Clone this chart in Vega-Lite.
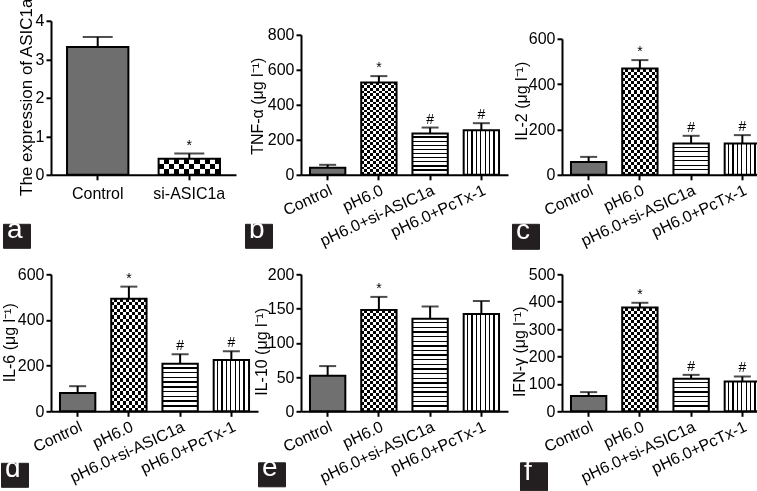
{
"$schema": "https://vega.github.io/schema/vega-lite/v6.json",
"autosize": {"type": "pad"},
"padding": {"left": 0, "top": -3.2, "right": 0, "bottom": 0},
"config": {
 "font": "Liberation Sans",
 "view": {"stroke": null},
 "axis": {"domainColor": "#000", "domainWidth": 2, "tickColor": "#000", "tickWidth": 2, "tickSize": 5, "labelFont": "Liberation Sans", "labelFontSize": 16, "labelColor": "#000", "titleFont": "Liberation Sans", "titleFontSize": 16, "titleFontWeight": "normal", "titleColor": "#000", "grid": false, "labelPadding": 2, "titleBaseline": "middle"},
 "legend": {"fillColor": "#231f20", "strokeColor": "#231f20", "padding": 4, "titleColor": "#ffffff", "titleFontSize": 28, "titleFont": "Liberation Sans", "titleFontWeight": "normal", "titlePadding": 0, "titleOrient": "left", "symbolOpacity": 0, "symbolSize": 9, "symbolStrokeWidth": 0, "labelFontSize": 1, "labelOffset": 0}
},
"datasets": {
 "a": [{"g": "Control", "v": 3.32, "e": 3.58, "s": ""}, {"g": "si-ASIC1a", "v": 0.42, "e": 0.55, "s": "*"}],
 "b": [{"g": "Control", "v": 40, "e": 57, "s": ""}, {"g": "pH6.0", "v": 527, "e": 564, "s": "*"}, {"g": "pH6.0+si-ASIC1a", "v": 236, "e": 270, "s": "#"}, {"g": "pH6.0+PcTx-1", "v": 255, "e": 295, "s": "#"}],
 "c": [{"g": "Control", "v": 56, "e": 79, "s": ""}, {"g": "pH6.0", "v": 469, "e": 506, "s": "*"}, {"g": "pH6.0+si-ASIC1a", "v": 138, "e": 172, "s": "#"}, {"g": "pH6.0+PcTx-1", "v": 138, "e": 175, "s": "#"}],
 "d": [{"g": "Control", "v": 80, "e": 110, "s": ""}, {"g": "pH6.0", "v": 493, "e": 546, "s": "*"}, {"g": "pH6.0+si-ASIC1a", "v": 208, "e": 250, "s": "#"}, {"g": "pH6.0+PcTx-1", "v": 225, "e": 263, "s": "#"}],
 "e": [{"g": "Control", "v": 52, "e": 66, "s": ""}, {"g": "pH6.0", "v": 148, "e": 167, "s": "*"}, {"g": "pH6.0+si-ASIC1a", "v": 135, "e": 153, "s": ""}, {"g": "pH6.0+PcTx-1", "v": 142, "e": 161, "s": ""}],
 "f": [{"g": "Control", "v": 56, "e": 70, "s": ""}, {"g": "pH6.0", "v": 379, "e": 396, "s": "*"}, {"g": "pH6.0+si-ASIC1a", "v": 119, "e": 133, "s": "#"}, {"g": "pH6.0+PcTx-1", "v": 109, "e": 127, "s": "#"}]
},
"columns": 3,
"align": "none",
"bounds": "flush",
"spacing": {"row": 99.5, "column": 43},
"resolve": {"scale": {"opacity": "independent"}, "legend": {"opacity": "independent"}},
"concat": [
 {
  "width": 196, "height": 154,
  "data": {"name": "a"},
  "encoding": {
   "x": {"field": "g", "type": "nominal", "sort": null, "scale": {"range": [0, 185], "paddingInner": 0.33, "paddingOuter": 0.175}, "axis": {"title": null, "labelAngle": 0, "labelPadding": 6}},
   "y": {"field": "v", "type": "quantitative", "title": "The expression of ASIC1a", "scale": {"domain": [0, 4], "nice": false}, "axis": {"values": [0, 1, 2, 3, 4], "titleX": -25, "titleY": 76, "titleFontSize": 17}}
  },
  "layer": [
   {"mark": {"type": "bar"}, "encoding": {"fill": {"condition": {"test": "datum.g === 'si-ASIC1a'", "value": {"gradient":"linear","x1":0,"y1":0,"x2":1,"y2":0,"stops":[{"offset":0,"color":"#fff"},{"offset":0.0833,"color":"#fff"},{"offset":0.0833,"color":"#000"},{"offset":0.1667,"color":"#000"},{"offset":0.1667,"color":"#fff"},{"offset":0.25,"color":"#fff"},{"offset":0.25,"color":"#000"},{"offset":0.3333,"color":"#000"},{"offset":0.3333,"color":"#fff"},{"offset":0.4167,"color":"#fff"},{"offset":0.4167,"color":"#000"},{"offset":0.5,"color":"#000"},{"offset":0.5,"color":"#fff"},{"offset":0.5833,"color":"#fff"},{"offset":0.5833,"color":"#000"},{"offset":0.6667,"color":"#000"},{"offset":0.6667,"color":"#fff"},{"offset":0.75,"color":"#fff"},{"offset":0.75,"color":"#000"},{"offset":0.8333,"color":"#000"},{"offset":0.8333,"color":"#fff"},{"offset":0.9167,"color":"#fff"},{"offset":0.9167,"color":"#000"},{"offset":1,"color":"#000"}]}}, "value": "#6e6e6e"}}},
   {"transform": [{"filter": "datum.g === 'si-ASIC1a'"}], "mark": {"type": "bar", "blend": "difference", "fill": {"gradient":"linear","x1":0,"y1":0,"x2":0,"y2":1,"stops":[{"offset":0,"color":"#000"},{"offset":0.333,"color":"#000"},{"offset":0.333,"color":"#fff"},{"offset":0.667,"color":"#fff"},{"offset":0.667,"color":"#000"},{"offset":1,"color":"#000"}]}}},
   {"mark": {"type": "bar", "fill": "transparent", "stroke": "#000", "strokeWidth": 2}},
   {"mark": {"type": "bar", "fill": "transparent", "strokeWidth": 0}, "encoding": {"opacity": {"datum": "a", "type": "ordinal", "legend": {"title": "a", "orient": "none", "legendX": -48, "legendY": 203, "labelExpr": "''"}}}},
   {"mark": {"type": "rule", "color": "#000", "strokeWidth": 2}, "encoding": {"y2": {"field": "e"}}},
   {"mark": {"type": "tick", "color": "#000", "thickness": 2, "size": 30}, "encoding": {"y": {"field": "e", "type": "quantitative", "title": "The expression of ASIC1a"}}},
   {"mark": {"type": "text", "baseline": "bottom", "dy": -1, "fontSize": 14}, "encoding": {"y": {"field": "e", "type": "quantitative", "title": "The expression of ASIC1a"}, "text": {"field": "s"}}}
  ]
 },
 {
  "width": 218, "height": 154,
  "data": {"name": "b"},
  "encoding": {
   "x": {"field": "g", "type": "nominal", "sort": null, "scale": {"range": [0, 207], "paddingInner": 0.31, "paddingOuter": 0.175}, "axis": {"title": null, "labelAngle": -25, "labelAlign": "right", "labelBaseline": "top", "labelOverlap": false}},
   "y": {"field": "v", "type": "quantitative", "title": "TNF-α (μg l⁻¹)", "scale": {"domain": [0, 800], "range": [154, 14], "nice": false}, "axis": {"values": [0, 200, 400, 600, 800], "titleX": -44, "titleY": 85}}
  },
  "layer": [
   {"mark": {"type": "bar"}, "encoding": {"fill": {"condition": [
     {"test": "datum.g === 'pH6.0'", "value": {"gradient":"linear","x1":0,"y1":0,"x2":1,"y2":0,"stops":[{"offset":0,"color":"#fff"},{"offset":0.0833,"color":"#fff"},{"offset":0.0833,"color":"#000"},{"offset":0.1667,"color":"#000"},{"offset":0.1667,"color":"#fff"},{"offset":0.25,"color":"#fff"},{"offset":0.25,"color":"#000"},{"offset":0.3333,"color":"#000"},{"offset":0.3333,"color":"#fff"},{"offset":0.4167,"color":"#fff"},{"offset":0.4167,"color":"#000"},{"offset":0.5,"color":"#000"},{"offset":0.5,"color":"#fff"},{"offset":0.5833,"color":"#fff"},{"offset":0.5833,"color":"#000"},{"offset":0.6667,"color":"#000"},{"offset":0.6667,"color":"#fff"},{"offset":0.75,"color":"#fff"},{"offset":0.75,"color":"#000"},{"offset":0.8333,"color":"#000"},{"offset":0.8333,"color":"#fff"},{"offset":0.9167,"color":"#fff"},{"offset":0.9167,"color":"#000"},{"offset":1,"color":"#000"}]}},
     {"test": "datum.g === 'pH6.0+si-ASIC1a'", "value": {"gradient":"linear","x1":0,"y1":0,"x2":0,"y2":1,"stops":[{"offset":0,"color":"#fff"},{"offset":0.07,"color":"#fff"},{"offset":0.07,"color":"#000"},{"offset":0.1,"color":"#000"},{"offset":0.1,"color":"#fff"},{"offset":0.17,"color":"#fff"},{"offset":0.17,"color":"#000"},{"offset":0.2,"color":"#000"},{"offset":0.2,"color":"#fff"},{"offset":0.27,"color":"#fff"},{"offset":0.27,"color":"#000"},{"offset":0.3,"color":"#000"},{"offset":0.3,"color":"#fff"},{"offset":0.37,"color":"#fff"},{"offset":0.37,"color":"#000"},{"offset":0.4,"color":"#000"},{"offset":0.4,"color":"#fff"},{"offset":0.47,"color":"#fff"},{"offset":0.47,"color":"#000"},{"offset":0.5,"color":"#000"},{"offset":0.5,"color":"#fff"},{"offset":0.57,"color":"#fff"},{"offset":0.57,"color":"#000"},{"offset":0.6,"color":"#000"},{"offset":0.6,"color":"#fff"},{"offset":0.67,"color":"#fff"},{"offset":0.67,"color":"#000"},{"offset":0.7,"color":"#000"},{"offset":0.7,"color":"#fff"},{"offset":0.77,"color":"#fff"},{"offset":0.77,"color":"#000"},{"offset":0.8,"color":"#000"},{"offset":0.8,"color":"#fff"},{"offset":0.87,"color":"#fff"},{"offset":0.87,"color":"#000"},{"offset":0.9,"color":"#000"},{"offset":0.9,"color":"#fff"},{"offset":1,"color":"#fff"}]}},
     {"test": "datum.g === 'pH6.0+PcTx-1'", "value": {"gradient":"linear","x1":0,"y1":0,"x2":1,"y2":0,"stops":[{"offset":0,"color":"#fff"},{"offset":0.09,"color":"#fff"},{"offset":0.09,"color":"#000"},{"offset":0.125,"color":"#000"},{"offset":0.125,"color":"#fff"},{"offset":0.215,"color":"#fff"},{"offset":0.215,"color":"#000"},{"offset":0.25,"color":"#000"},{"offset":0.25,"color":"#fff"},{"offset":0.34,"color":"#fff"},{"offset":0.34,"color":"#000"},{"offset":0.375,"color":"#000"},{"offset":0.375,"color":"#fff"},{"offset":0.465,"color":"#fff"},{"offset":0.465,"color":"#000"},{"offset":0.5,"color":"#000"},{"offset":0.5,"color":"#fff"},{"offset":0.59,"color":"#fff"},{"offset":0.59,"color":"#000"},{"offset":0.625,"color":"#000"},{"offset":0.625,"color":"#fff"},{"offset":0.715,"color":"#fff"},{"offset":0.715,"color":"#000"},{"offset":0.75,"color":"#000"},{"offset":0.75,"color":"#fff"},{"offset":0.84,"color":"#fff"},{"offset":0.84,"color":"#000"},{"offset":0.875,"color":"#000"},{"offset":0.875,"color":"#fff"},{"offset":1,"color":"#fff"}]}}
    ], "value": "#707070"}}},
   {"transform": [{"filter": "datum.g === 'pH6.0'"}], "mark": {"type": "bar", "blend": "difference", "fill": {"gradient":"linear","x1":0,"y1":0,"x2":0,"y2":1,"stops":[{"offset":0,"color":"#000"},{"offset":0.0294,"color":"#000"},{"offset":0.0294,"color":"#fff"},{"offset":0.0588,"color":"#fff"},{"offset":0.0588,"color":"#000"},{"offset":0.0882,"color":"#000"},{"offset":0.0882,"color":"#fff"},{"offset":0.1176,"color":"#fff"},{"offset":0.1176,"color":"#000"},{"offset":0.1471,"color":"#000"},{"offset":0.1471,"color":"#fff"},{"offset":0.1765,"color":"#fff"},{"offset":0.1765,"color":"#000"},{"offset":0.2059,"color":"#000"},{"offset":0.2059,"color":"#fff"},{"offset":0.2353,"color":"#fff"},{"offset":0.2353,"color":"#000"},{"offset":0.2647,"color":"#000"},{"offset":0.2647,"color":"#fff"},{"offset":0.2941,"color":"#fff"},{"offset":0.2941,"color":"#000"},{"offset":0.3235,"color":"#000"},{"offset":0.3235,"color":"#fff"},{"offset":0.3529,"color":"#fff"},{"offset":0.3529,"color":"#000"},{"offset":0.3824,"color":"#000"},{"offset":0.3824,"color":"#fff"},{"offset":0.4118,"color":"#fff"},{"offset":0.4118,"color":"#000"},{"offset":0.4412,"color":"#000"},{"offset":0.4412,"color":"#fff"},{"offset":0.4706,"color":"#fff"},{"offset":0.4706,"color":"#000"},{"offset":0.5,"color":"#000"},{"offset":0.5,"color":"#fff"},{"offset":0.5294,"color":"#fff"},{"offset":0.5294,"color":"#000"},{"offset":0.5588,"color":"#000"},{"offset":0.5588,"color":"#fff"},{"offset":0.5882,"color":"#fff"},{"offset":0.5882,"color":"#000"},{"offset":0.6176,"color":"#000"},{"offset":0.6176,"color":"#fff"},{"offset":0.6471,"color":"#fff"},{"offset":0.6471,"color":"#000"},{"offset":0.6765,"color":"#000"},{"offset":0.6765,"color":"#fff"},{"offset":0.7059,"color":"#fff"},{"offset":0.7059,"color":"#000"},{"offset":0.7353,"color":"#000"},{"offset":0.7353,"color":"#fff"},{"offset":0.7647,"color":"#fff"},{"offset":0.7647,"color":"#000"},{"offset":0.7941,"color":"#000"},{"offset":0.7941,"color":"#fff"},{"offset":0.8235,"color":"#fff"},{"offset":0.8235,"color":"#000"},{"offset":0.8529,"color":"#000"},{"offset":0.8529,"color":"#fff"},{"offset":0.8824,"color":"#fff"},{"offset":0.8824,"color":"#000"},{"offset":0.9118,"color":"#000"},{"offset":0.9118,"color":"#fff"},{"offset":0.9412,"color":"#fff"},{"offset":0.9412,"color":"#000"},{"offset":0.9706,"color":"#000"},{"offset":0.9706,"color":"#fff"},{"offset":1,"color":"#fff"}]}}},
   {"mark": {"type": "bar", "fill": "transparent", "stroke": "#000", "strokeWidth": 2}},
   {"mark": {"type": "bar", "fill": "transparent", "strokeWidth": 0}, "encoding": {"opacity": {"datum": "b", "type": "ordinal", "legend": {"title": "b", "orient": "none", "legendX": -56, "legendY": 203, "labelExpr": "''"}}}},
   {"mark": {"type": "rule", "color": "#000", "strokeWidth": 2}, "encoding": {"y2": {"field": "e"}}},
   {"mark": {"type": "tick", "color": "#000", "thickness": 2, "size": 17}, "encoding": {"y": {"field": "e", "type": "quantitative", "title": "TNF-α (μg l⁻¹)"}}},
   {"mark": {"type": "text", "baseline": "bottom", "dy": -1, "fontSize": 14}, "encoding": {"y": {"field": "e", "type": "quantitative", "title": "TNF-α (μg l⁻¹)"}, "text": {"field": "s"}}}
  ]
 },
 {
  "width": 207, "height": 154,
  "data": {"name": "c"},
  "encoding": {
   "x": {"field": "g", "type": "nominal", "sort": null, "scale": {"paddingInner": 0.31, "paddingOuter": 0.175}, "axis": {"title": null, "labelAngle": -25, "labelAlign": "right", "labelBaseline": "top", "labelOverlap": false}},
   "y": {"field": "v", "type": "quantitative", "title": "IL-2 (μg l⁻¹)", "scale": {"domain": [0, 600], "range": [154, 18], "nice": false}, "axis": {"values": [0, 200, 400, 600], "titleX": -40, "titleY": 80}}
  },
  "layer": [
   {"mark": {"type": "bar"}, "encoding": {"fill": {"condition": [
     {"test": "datum.g === 'pH6.0'", "value": {"gradient":"linear","x1":0,"y1":0,"x2":1,"y2":0,"stops":[{"offset":0,"color":"#fff"},{"offset":0.0833,"color":"#fff"},{"offset":0.0833,"color":"#000"},{"offset":0.1667,"color":"#000"},{"offset":0.1667,"color":"#fff"},{"offset":0.25,"color":"#fff"},{"offset":0.25,"color":"#000"},{"offset":0.3333,"color":"#000"},{"offset":0.3333,"color":"#fff"},{"offset":0.4167,"color":"#fff"},{"offset":0.4167,"color":"#000"},{"offset":0.5,"color":"#000"},{"offset":0.5,"color":"#fff"},{"offset":0.5833,"color":"#fff"},{"offset":0.5833,"color":"#000"},{"offset":0.6667,"color":"#000"},{"offset":0.6667,"color":"#fff"},{"offset":0.75,"color":"#fff"},{"offset":0.75,"color":"#000"},{"offset":0.8333,"color":"#000"},{"offset":0.8333,"color":"#fff"},{"offset":0.9167,"color":"#fff"},{"offset":0.9167,"color":"#000"},{"offset":1,"color":"#000"}]}},
     {"test": "datum.g === 'pH6.0+si-ASIC1a'", "value": {"gradient":"linear","x1":0,"y1":0,"x2":0,"y2":1,"stops":[{"offset":0,"color":"#fff"},{"offset":0.1,"color":"#fff"},{"offset":0.1,"color":"#000"},{"offset":0.1429,"color":"#000"},{"offset":0.1429,"color":"#fff"},{"offset":0.2429,"color":"#fff"},{"offset":0.2429,"color":"#000"},{"offset":0.2857,"color":"#000"},{"offset":0.2857,"color":"#fff"},{"offset":0.3857,"color":"#fff"},{"offset":0.3857,"color":"#000"},{"offset":0.4286,"color":"#000"},{"offset":0.4286,"color":"#fff"},{"offset":0.5286,"color":"#fff"},{"offset":0.5286,"color":"#000"},{"offset":0.5714,"color":"#000"},{"offset":0.5714,"color":"#fff"},{"offset":0.6714,"color":"#fff"},{"offset":0.6714,"color":"#000"},{"offset":0.7143,"color":"#000"},{"offset":0.7143,"color":"#fff"},{"offset":0.8143,"color":"#fff"},{"offset":0.8143,"color":"#000"},{"offset":0.8571,"color":"#000"},{"offset":0.8571,"color":"#fff"},{"offset":1,"color":"#fff"}]}},
     {"test": "datum.g === 'pH6.0+PcTx-1'", "value": {"gradient":"linear","x1":0,"y1":0,"x2":1,"y2":0,"stops":[{"offset":0,"color":"#fff"},{"offset":0.09,"color":"#fff"},{"offset":0.09,"color":"#000"},{"offset":0.125,"color":"#000"},{"offset":0.125,"color":"#fff"},{"offset":0.215,"color":"#fff"},{"offset":0.215,"color":"#000"},{"offset":0.25,"color":"#000"},{"offset":0.25,"color":"#fff"},{"offset":0.34,"color":"#fff"},{"offset":0.34,"color":"#000"},{"offset":0.375,"color":"#000"},{"offset":0.375,"color":"#fff"},{"offset":0.465,"color":"#fff"},{"offset":0.465,"color":"#000"},{"offset":0.5,"color":"#000"},{"offset":0.5,"color":"#fff"},{"offset":0.59,"color":"#fff"},{"offset":0.59,"color":"#000"},{"offset":0.625,"color":"#000"},{"offset":0.625,"color":"#fff"},{"offset":0.715,"color":"#fff"},{"offset":0.715,"color":"#000"},{"offset":0.75,"color":"#000"},{"offset":0.75,"color":"#fff"},{"offset":0.84,"color":"#fff"},{"offset":0.84,"color":"#000"},{"offset":0.875,"color":"#000"},{"offset":0.875,"color":"#fff"},{"offset":1,"color":"#fff"}]}}
    ], "value": "#707070"}}},
   {"transform": [{"filter": "datum.g === 'pH6.0'"}], "mark": {"type": "bar", "blend": "difference", "fill": {"gradient":"linear","x1":0,"y1":0,"x2":0,"y2":1,"stops":[{"offset":0,"color":"#000"},{"offset":0.0294,"color":"#000"},{"offset":0.0294,"color":"#fff"},{"offset":0.0588,"color":"#fff"},{"offset":0.0588,"color":"#000"},{"offset":0.0882,"color":"#000"},{"offset":0.0882,"color":"#fff"},{"offset":0.1176,"color":"#fff"},{"offset":0.1176,"color":"#000"},{"offset":0.1471,"color":"#000"},{"offset":0.1471,"color":"#fff"},{"offset":0.1765,"color":"#fff"},{"offset":0.1765,"color":"#000"},{"offset":0.2059,"color":"#000"},{"offset":0.2059,"color":"#fff"},{"offset":0.2353,"color":"#fff"},{"offset":0.2353,"color":"#000"},{"offset":0.2647,"color":"#000"},{"offset":0.2647,"color":"#fff"},{"offset":0.2941,"color":"#fff"},{"offset":0.2941,"color":"#000"},{"offset":0.3235,"color":"#000"},{"offset":0.3235,"color":"#fff"},{"offset":0.3529,"color":"#fff"},{"offset":0.3529,"color":"#000"},{"offset":0.3824,"color":"#000"},{"offset":0.3824,"color":"#fff"},{"offset":0.4118,"color":"#fff"},{"offset":0.4118,"color":"#000"},{"offset":0.4412,"color":"#000"},{"offset":0.4412,"color":"#fff"},{"offset":0.4706,"color":"#fff"},{"offset":0.4706,"color":"#000"},{"offset":0.5,"color":"#000"},{"offset":0.5,"color":"#fff"},{"offset":0.5294,"color":"#fff"},{"offset":0.5294,"color":"#000"},{"offset":0.5588,"color":"#000"},{"offset":0.5588,"color":"#fff"},{"offset":0.5882,"color":"#fff"},{"offset":0.5882,"color":"#000"},{"offset":0.6176,"color":"#000"},{"offset":0.6176,"color":"#fff"},{"offset":0.6471,"color":"#fff"},{"offset":0.6471,"color":"#000"},{"offset":0.6765,"color":"#000"},{"offset":0.6765,"color":"#fff"},{"offset":0.7059,"color":"#fff"},{"offset":0.7059,"color":"#000"},{"offset":0.7353,"color":"#000"},{"offset":0.7353,"color":"#fff"},{"offset":0.7647,"color":"#fff"},{"offset":0.7647,"color":"#000"},{"offset":0.7941,"color":"#000"},{"offset":0.7941,"color":"#fff"},{"offset":0.8235,"color":"#fff"},{"offset":0.8235,"color":"#000"},{"offset":0.8529,"color":"#000"},{"offset":0.8529,"color":"#fff"},{"offset":0.8824,"color":"#fff"},{"offset":0.8824,"color":"#000"},{"offset":0.9118,"color":"#000"},{"offset":0.9118,"color":"#fff"},{"offset":0.9412,"color":"#fff"},{"offset":0.9412,"color":"#000"},{"offset":0.9706,"color":"#000"},{"offset":0.9706,"color":"#fff"},{"offset":1,"color":"#fff"}]}}},
   {"mark": {"type": "bar", "fill": "transparent", "stroke": "#000", "strokeWidth": 2}},
   {"mark": {"type": "bar", "fill": "transparent", "strokeWidth": 0}, "encoding": {"opacity": {"datum": "c", "type": "ordinal", "legend": {"title": "c", "orient": "none", "legendX": -50, "legendY": 203, "labelExpr": "''", "symbolSize": 25}}}},
   {"mark": {"type": "rule", "color": "#000", "strokeWidth": 2}, "encoding": {"y2": {"field": "e"}}},
   {"mark": {"type": "tick", "color": "#000", "thickness": 2, "size": 17}, "encoding": {"y": {"field": "e", "type": "quantitative", "title": "IL-2 (μg l⁻¹)"}}},
   {"mark": {"type": "text", "baseline": "bottom", "dy": -1, "fontSize": 14}, "encoding": {"y": {"field": "e", "type": "quantitative", "title": "IL-2 (μg l⁻¹)"}, "text": {"field": "s"}}}
  ]
 },
 {
  "width": 207, "height": 137,
  "data": {"name": "d"},
  "encoding": {
   "x": {"field": "g", "type": "nominal", "sort": null, "scale": {"paddingInner": 0.31, "paddingOuter": 0.175}, "axis": {"title": null, "labelAngle": -25, "labelAlign": "right", "labelBaseline": "top", "labelOverlap": false}},
   "y": {"field": "v", "type": "quantitative", "title": "IL-6 (μg l⁻¹)", "scale": {"domain": [0, 600], "nice": false}, "axis": {"values": [0, 200, 400, 600], "titleX": -42, "titleY": 68}}
  },
  "layer": [
   {"mark": {"type": "bar"}, "encoding": {"fill": {"condition": [
     {"test": "datum.g === 'pH6.0'", "value": {"gradient":"linear","x1":0,"y1":0,"x2":1,"y2":0,"stops":[{"offset":0,"color":"#fff"},{"offset":0.0833,"color":"#fff"},{"offset":0.0833,"color":"#000"},{"offset":0.1667,"color":"#000"},{"offset":0.1667,"color":"#fff"},{"offset":0.25,"color":"#fff"},{"offset":0.25,"color":"#000"},{"offset":0.3333,"color":"#000"},{"offset":0.3333,"color":"#fff"},{"offset":0.4167,"color":"#fff"},{"offset":0.4167,"color":"#000"},{"offset":0.5,"color":"#000"},{"offset":0.5,"color":"#fff"},{"offset":0.5833,"color":"#fff"},{"offset":0.5833,"color":"#000"},{"offset":0.6667,"color":"#000"},{"offset":0.6667,"color":"#fff"},{"offset":0.75,"color":"#fff"},{"offset":0.75,"color":"#000"},{"offset":0.8333,"color":"#000"},{"offset":0.8333,"color":"#fff"},{"offset":0.9167,"color":"#fff"},{"offset":0.9167,"color":"#000"},{"offset":1,"color":"#000"}]}},
     {"test": "datum.g === 'pH6.0+si-ASIC1a'", "value": {"gradient":"linear","x1":0,"y1":0,"x2":0,"y2":1,"stops":[{"offset":0,"color":"#fff"},{"offset":0.07,"color":"#fff"},{"offset":0.07,"color":"#000"},{"offset":0.1,"color":"#000"},{"offset":0.1,"color":"#fff"},{"offset":0.17,"color":"#fff"},{"offset":0.17,"color":"#000"},{"offset":0.2,"color":"#000"},{"offset":0.2,"color":"#fff"},{"offset":0.27,"color":"#fff"},{"offset":0.27,"color":"#000"},{"offset":0.3,"color":"#000"},{"offset":0.3,"color":"#fff"},{"offset":0.37,"color":"#fff"},{"offset":0.37,"color":"#000"},{"offset":0.4,"color":"#000"},{"offset":0.4,"color":"#fff"},{"offset":0.47,"color":"#fff"},{"offset":0.47,"color":"#000"},{"offset":0.5,"color":"#000"},{"offset":0.5,"color":"#fff"},{"offset":0.57,"color":"#fff"},{"offset":0.57,"color":"#000"},{"offset":0.6,"color":"#000"},{"offset":0.6,"color":"#fff"},{"offset":0.67,"color":"#fff"},{"offset":0.67,"color":"#000"},{"offset":0.7,"color":"#000"},{"offset":0.7,"color":"#fff"},{"offset":0.77,"color":"#fff"},{"offset":0.77,"color":"#000"},{"offset":0.8,"color":"#000"},{"offset":0.8,"color":"#fff"},{"offset":0.87,"color":"#fff"},{"offset":0.87,"color":"#000"},{"offset":0.9,"color":"#000"},{"offset":0.9,"color":"#fff"},{"offset":1,"color":"#fff"}]}},
     {"test": "datum.g === 'pH6.0+PcTx-1'", "value": {"gradient":"linear","x1":0,"y1":0,"x2":1,"y2":0,"stops":[{"offset":0,"color":"#fff"},{"offset":0.09,"color":"#fff"},{"offset":0.09,"color":"#000"},{"offset":0.125,"color":"#000"},{"offset":0.125,"color":"#fff"},{"offset":0.215,"color":"#fff"},{"offset":0.215,"color":"#000"},{"offset":0.25,"color":"#000"},{"offset":0.25,"color":"#fff"},{"offset":0.34,"color":"#fff"},{"offset":0.34,"color":"#000"},{"offset":0.375,"color":"#000"},{"offset":0.375,"color":"#fff"},{"offset":0.465,"color":"#fff"},{"offset":0.465,"color":"#000"},{"offset":0.5,"color":"#000"},{"offset":0.5,"color":"#fff"},{"offset":0.59,"color":"#fff"},{"offset":0.59,"color":"#000"},{"offset":0.625,"color":"#000"},{"offset":0.625,"color":"#fff"},{"offset":0.715,"color":"#fff"},{"offset":0.715,"color":"#000"},{"offset":0.75,"color":"#000"},{"offset":0.75,"color":"#fff"},{"offset":0.84,"color":"#fff"},{"offset":0.84,"color":"#000"},{"offset":0.875,"color":"#000"},{"offset":0.875,"color":"#fff"},{"offset":1,"color":"#fff"}]}}
    ], "value": "#707070"}}},
   {"transform": [{"filter": "datum.g === 'pH6.0'"}], "mark": {"type": "bar", "blend": "difference", "fill": {"gradient":"linear","x1":0,"y1":0,"x2":0,"y2":1,"stops":[{"offset":0,"color":"#000"},{"offset":0.0294,"color":"#000"},{"offset":0.0294,"color":"#fff"},{"offset":0.0588,"color":"#fff"},{"offset":0.0588,"color":"#000"},{"offset":0.0882,"color":"#000"},{"offset":0.0882,"color":"#fff"},{"offset":0.1176,"color":"#fff"},{"offset":0.1176,"color":"#000"},{"offset":0.1471,"color":"#000"},{"offset":0.1471,"color":"#fff"},{"offset":0.1765,"color":"#fff"},{"offset":0.1765,"color":"#000"},{"offset":0.2059,"color":"#000"},{"offset":0.2059,"color":"#fff"},{"offset":0.2353,"color":"#fff"},{"offset":0.2353,"color":"#000"},{"offset":0.2647,"color":"#000"},{"offset":0.2647,"color":"#fff"},{"offset":0.2941,"color":"#fff"},{"offset":0.2941,"color":"#000"},{"offset":0.3235,"color":"#000"},{"offset":0.3235,"color":"#fff"},{"offset":0.3529,"color":"#fff"},{"offset":0.3529,"color":"#000"},{"offset":0.3824,"color":"#000"},{"offset":0.3824,"color":"#fff"},{"offset":0.4118,"color":"#fff"},{"offset":0.4118,"color":"#000"},{"offset":0.4412,"color":"#000"},{"offset":0.4412,"color":"#fff"},{"offset":0.4706,"color":"#fff"},{"offset":0.4706,"color":"#000"},{"offset":0.5,"color":"#000"},{"offset":0.5,"color":"#fff"},{"offset":0.5294,"color":"#fff"},{"offset":0.5294,"color":"#000"},{"offset":0.5588,"color":"#000"},{"offset":0.5588,"color":"#fff"},{"offset":0.5882,"color":"#fff"},{"offset":0.5882,"color":"#000"},{"offset":0.6176,"color":"#000"},{"offset":0.6176,"color":"#fff"},{"offset":0.6471,"color":"#fff"},{"offset":0.6471,"color":"#000"},{"offset":0.6765,"color":"#000"},{"offset":0.6765,"color":"#fff"},{"offset":0.7059,"color":"#fff"},{"offset":0.7059,"color":"#000"},{"offset":0.7353,"color":"#000"},{"offset":0.7353,"color":"#fff"},{"offset":0.7647,"color":"#fff"},{"offset":0.7647,"color":"#000"},{"offset":0.7941,"color":"#000"},{"offset":0.7941,"color":"#fff"},{"offset":0.8235,"color":"#fff"},{"offset":0.8235,"color":"#000"},{"offset":0.8529,"color":"#000"},{"offset":0.8529,"color":"#fff"},{"offset":0.8824,"color":"#fff"},{"offset":0.8824,"color":"#000"},{"offset":0.9118,"color":"#000"},{"offset":0.9118,"color":"#fff"},{"offset":0.9412,"color":"#fff"},{"offset":0.9412,"color":"#000"},{"offset":0.9706,"color":"#000"},{"offset":0.9706,"color":"#fff"},{"offset":1,"color":"#fff"}]}}},
   {"mark": {"type": "bar", "fill": "transparent", "stroke": "#000", "strokeWidth": 2}},
   {"mark": {"type": "bar", "fill": "transparent", "strokeWidth": 0}, "encoding": {"opacity": {"datum": "d", "type": "ordinal", "legend": {"title": "d", "orient": "none", "legendX": -50, "legendY": 188.5, "labelExpr": "''"}}}},
   {"mark": {"type": "rule", "color": "#000", "strokeWidth": 2}, "encoding": {"y2": {"field": "e"}}},
   {"mark": {"type": "tick", "color": "#000", "thickness": 2, "size": 17}, "encoding": {"y": {"field": "e", "type": "quantitative", "title": "IL-6 (μg l⁻¹)"}}},
   {"mark": {"type": "text", "baseline": "bottom", "dy": -1, "fontSize": 14}, "encoding": {"y": {"field": "e", "type": "quantitative", "title": "IL-6 (μg l⁻¹)"}, "text": {"field": "s"}}}
  ]
 },
 {
  "width": 207, "height": 137,
  "data": {"name": "e"},
  "encoding": {
   "x": {"field": "g", "type": "nominal", "sort": null, "scale": {"paddingInner": 0.31, "paddingOuter": 0.175}, "axis": {"title": null, "labelAngle": -25, "labelAlign": "right", "labelBaseline": "top", "labelOverlap": false}},
   "y": {"field": "v", "type": "quantitative", "title": "IL-10 (μg l⁻¹)", "scale": {"domain": [0, 200], "nice": false}, "axis": {"values": [0, 50, 100, 150, 200], "titleX": -40, "titleY": 77}}
  },
  "layer": [
   {"mark": {"type": "bar"}, "encoding": {"fill": {"condition": [
     {"test": "datum.g === 'pH6.0'", "value": {"gradient":"linear","x1":0,"y1":0,"x2":1,"y2":0,"stops":[{"offset":0,"color":"#fff"},{"offset":0.0833,"color":"#fff"},{"offset":0.0833,"color":"#000"},{"offset":0.1667,"color":"#000"},{"offset":0.1667,"color":"#fff"},{"offset":0.25,"color":"#fff"},{"offset":0.25,"color":"#000"},{"offset":0.3333,"color":"#000"},{"offset":0.3333,"color":"#fff"},{"offset":0.4167,"color":"#fff"},{"offset":0.4167,"color":"#000"},{"offset":0.5,"color":"#000"},{"offset":0.5,"color":"#fff"},{"offset":0.5833,"color":"#fff"},{"offset":0.5833,"color":"#000"},{"offset":0.6667,"color":"#000"},{"offset":0.6667,"color":"#fff"},{"offset":0.75,"color":"#fff"},{"offset":0.75,"color":"#000"},{"offset":0.8333,"color":"#000"},{"offset":0.8333,"color":"#fff"},{"offset":0.9167,"color":"#fff"},{"offset":0.9167,"color":"#000"},{"offset":1,"color":"#000"}]}},
     {"test": "datum.g === 'pH6.0+si-ASIC1a'", "value": {"gradient":"linear","x1":0,"y1":0,"x2":0,"y2":1,"stops":[{"offset":0,"color":"#fff"},{"offset":0.035,"color":"#fff"},{"offset":0.035,"color":"#000"},{"offset":0.05,"color":"#000"},{"offset":0.05,"color":"#fff"},{"offset":0.085,"color":"#fff"},{"offset":0.085,"color":"#000"},{"offset":0.1,"color":"#000"},{"offset":0.1,"color":"#fff"},{"offset":0.135,"color":"#fff"},{"offset":0.135,"color":"#000"},{"offset":0.15,"color":"#000"},{"offset":0.15,"color":"#fff"},{"offset":0.185,"color":"#fff"},{"offset":0.185,"color":"#000"},{"offset":0.2,"color":"#000"},{"offset":0.2,"color":"#fff"},{"offset":0.235,"color":"#fff"},{"offset":0.235,"color":"#000"},{"offset":0.25,"color":"#000"},{"offset":0.25,"color":"#fff"},{"offset":0.285,"color":"#fff"},{"offset":0.285,"color":"#000"},{"offset":0.3,"color":"#000"},{"offset":0.3,"color":"#fff"},{"offset":0.335,"color":"#fff"},{"offset":0.335,"color":"#000"},{"offset":0.35,"color":"#000"},{"offset":0.35,"color":"#fff"},{"offset":0.385,"color":"#fff"},{"offset":0.385,"color":"#000"},{"offset":0.4,"color":"#000"},{"offset":0.4,"color":"#fff"},{"offset":0.435,"color":"#fff"},{"offset":0.435,"color":"#000"},{"offset":0.45,"color":"#000"},{"offset":0.45,"color":"#fff"},{"offset":0.485,"color":"#fff"},{"offset":0.485,"color":"#000"},{"offset":0.5,"color":"#000"},{"offset":0.5,"color":"#fff"},{"offset":0.535,"color":"#fff"},{"offset":0.535,"color":"#000"},{"offset":0.55,"color":"#000"},{"offset":0.55,"color":"#fff"},{"offset":0.585,"color":"#fff"},{"offset":0.585,"color":"#000"},{"offset":0.6,"color":"#000"},{"offset":0.6,"color":"#fff"},{"offset":0.635,"color":"#fff"},{"offset":0.635,"color":"#000"},{"offset":0.65,"color":"#000"},{"offset":0.65,"color":"#fff"},{"offset":0.685,"color":"#fff"},{"offset":0.685,"color":"#000"},{"offset":0.7,"color":"#000"},{"offset":0.7,"color":"#fff"},{"offset":0.735,"color":"#fff"},{"offset":0.735,"color":"#000"},{"offset":0.75,"color":"#000"},{"offset":0.75,"color":"#fff"},{"offset":0.785,"color":"#fff"},{"offset":0.785,"color":"#000"},{"offset":0.8,"color":"#000"},{"offset":0.8,"color":"#fff"},{"offset":0.835,"color":"#fff"},{"offset":0.835,"color":"#000"},{"offset":0.85,"color":"#000"},{"offset":0.85,"color":"#fff"},{"offset":0.885,"color":"#fff"},{"offset":0.885,"color":"#000"},{"offset":0.9,"color":"#000"},{"offset":0.9,"color":"#fff"},{"offset":0.935,"color":"#fff"},{"offset":0.935,"color":"#000"},{"offset":0.95,"color":"#000"},{"offset":0.95,"color":"#fff"},{"offset":1,"color":"#fff"}]}},
     {"test": "datum.g === 'pH6.0+PcTx-1'", "value": {"gradient":"linear","x1":0,"y1":0,"x2":1,"y2":0,"stops":[{"offset":0,"color":"#fff"},{"offset":0.09,"color":"#fff"},{"offset":0.09,"color":"#000"},{"offset":0.125,"color":"#000"},{"offset":0.125,"color":"#fff"},{"offset":0.215,"color":"#fff"},{"offset":0.215,"color":"#000"},{"offset":0.25,"color":"#000"},{"offset":0.25,"color":"#fff"},{"offset":0.34,"color":"#fff"},{"offset":0.34,"color":"#000"},{"offset":0.375,"color":"#000"},{"offset":0.375,"color":"#fff"},{"offset":0.465,"color":"#fff"},{"offset":0.465,"color":"#000"},{"offset":0.5,"color":"#000"},{"offset":0.5,"color":"#fff"},{"offset":0.59,"color":"#fff"},{"offset":0.59,"color":"#000"},{"offset":0.625,"color":"#000"},{"offset":0.625,"color":"#fff"},{"offset":0.715,"color":"#fff"},{"offset":0.715,"color":"#000"},{"offset":0.75,"color":"#000"},{"offset":0.75,"color":"#fff"},{"offset":0.84,"color":"#fff"},{"offset":0.84,"color":"#000"},{"offset":0.875,"color":"#000"},{"offset":0.875,"color":"#fff"},{"offset":1,"color":"#fff"}]}}
    ], "value": "#707070"}}},
   {"transform": [{"filter": "datum.g === 'pH6.0'"}], "mark": {"type": "bar", "blend": "difference", "fill": {"gradient":"linear","x1":0,"y1":0,"x2":0,"y2":1,"stops":[{"offset":0,"color":"#000"},{"offset":0.0294,"color":"#000"},{"offset":0.0294,"color":"#fff"},{"offset":0.0588,"color":"#fff"},{"offset":0.0588,"color":"#000"},{"offset":0.0882,"color":"#000"},{"offset":0.0882,"color":"#fff"},{"offset":0.1176,"color":"#fff"},{"offset":0.1176,"color":"#000"},{"offset":0.1471,"color":"#000"},{"offset":0.1471,"color":"#fff"},{"offset":0.1765,"color":"#fff"},{"offset":0.1765,"color":"#000"},{"offset":0.2059,"color":"#000"},{"offset":0.2059,"color":"#fff"},{"offset":0.2353,"color":"#fff"},{"offset":0.2353,"color":"#000"},{"offset":0.2647,"color":"#000"},{"offset":0.2647,"color":"#fff"},{"offset":0.2941,"color":"#fff"},{"offset":0.2941,"color":"#000"},{"offset":0.3235,"color":"#000"},{"offset":0.3235,"color":"#fff"},{"offset":0.3529,"color":"#fff"},{"offset":0.3529,"color":"#000"},{"offset":0.3824,"color":"#000"},{"offset":0.3824,"color":"#fff"},{"offset":0.4118,"color":"#fff"},{"offset":0.4118,"color":"#000"},{"offset":0.4412,"color":"#000"},{"offset":0.4412,"color":"#fff"},{"offset":0.4706,"color":"#fff"},{"offset":0.4706,"color":"#000"},{"offset":0.5,"color":"#000"},{"offset":0.5,"color":"#fff"},{"offset":0.5294,"color":"#fff"},{"offset":0.5294,"color":"#000"},{"offset":0.5588,"color":"#000"},{"offset":0.5588,"color":"#fff"},{"offset":0.5882,"color":"#fff"},{"offset":0.5882,"color":"#000"},{"offset":0.6176,"color":"#000"},{"offset":0.6176,"color":"#fff"},{"offset":0.6471,"color":"#fff"},{"offset":0.6471,"color":"#000"},{"offset":0.6765,"color":"#000"},{"offset":0.6765,"color":"#fff"},{"offset":0.7059,"color":"#fff"},{"offset":0.7059,"color":"#000"},{"offset":0.7353,"color":"#000"},{"offset":0.7353,"color":"#fff"},{"offset":0.7647,"color":"#fff"},{"offset":0.7647,"color":"#000"},{"offset":0.7941,"color":"#000"},{"offset":0.7941,"color":"#fff"},{"offset":0.8235,"color":"#fff"},{"offset":0.8235,"color":"#000"},{"offset":0.8529,"color":"#000"},{"offset":0.8529,"color":"#fff"},{"offset":0.8824,"color":"#fff"},{"offset":0.8824,"color":"#000"},{"offset":0.9118,"color":"#000"},{"offset":0.9118,"color":"#fff"},{"offset":0.9412,"color":"#fff"},{"offset":0.9412,"color":"#000"},{"offset":0.9706,"color":"#000"},{"offset":0.9706,"color":"#fff"},{"offset":1,"color":"#fff"}]}}},
   {"mark": {"type": "bar", "fill": "transparent", "stroke": "#000", "strokeWidth": 2}},
   {"mark": {"type": "bar", "fill": "transparent", "strokeWidth": 0}, "encoding": {"opacity": {"datum": "e", "type": "ordinal", "legend": {"title": "e", "orient": "none", "legendX": -43, "legendY": 188, "labelExpr": "''"}}}},
   {"mark": {"type": "rule", "color": "#000", "strokeWidth": 2}, "encoding": {"y2": {"field": "e"}}},
   {"mark": {"type": "tick", "color": "#000", "thickness": 2, "size": 17}, "encoding": {"y": {"field": "e", "type": "quantitative", "title": "IL-10 (μg l⁻¹)"}}},
   {"mark": {"type": "text", "baseline": "bottom", "dy": -1, "fontSize": 14}, "encoding": {"y": {"field": "e", "type": "quantitative", "title": "IL-10 (μg l⁻¹)"}, "text": {"field": "s"}}}
  ]
 },
 {
  "width": 207, "height": 137,
  "data": {"name": "f"},
  "encoding": {
   "x": {"field": "g", "type": "nominal", "sort": null, "scale": {"paddingInner": 0.31, "paddingOuter": 0.175}, "axis": {"title": null, "labelAngle": -25, "labelAlign": "right", "labelBaseline": "top", "labelOverlap": false}},
   "y": {"field": "v", "type": "quantitative", "title": "IFN-γ (μg l⁻¹)", "scale": {"domain": [0, 500], "nice": false}, "axis": {"values": [0, 100, 200, 300, 400, 500], "titleX": -42, "titleY": 77}}
  },
  "layer": [
   {"mark": {"type": "bar"}, "encoding": {"fill": {"condition": [
     {"test": "datum.g === 'pH6.0'", "value": {"gradient":"linear","x1":0,"y1":0,"x2":1,"y2":0,"stops":[{"offset":0,"color":"#fff"},{"offset":0.0833,"color":"#fff"},{"offset":0.0833,"color":"#000"},{"offset":0.1667,"color":"#000"},{"offset":0.1667,"color":"#fff"},{"offset":0.25,"color":"#fff"},{"offset":0.25,"color":"#000"},{"offset":0.3333,"color":"#000"},{"offset":0.3333,"color":"#fff"},{"offset":0.4167,"color":"#fff"},{"offset":0.4167,"color":"#000"},{"offset":0.5,"color":"#000"},{"offset":0.5,"color":"#fff"},{"offset":0.5833,"color":"#fff"},{"offset":0.5833,"color":"#000"},{"offset":0.6667,"color":"#000"},{"offset":0.6667,"color":"#fff"},{"offset":0.75,"color":"#fff"},{"offset":0.75,"color":"#000"},{"offset":0.8333,"color":"#000"},{"offset":0.8333,"color":"#fff"},{"offset":0.9167,"color":"#fff"},{"offset":0.9167,"color":"#000"},{"offset":1,"color":"#000"}]}},
     {"test": "datum.g === 'pH6.0+si-ASIC1a'", "value": {"gradient":"linear","x1":0,"y1":0,"x2":0,"y2":1,"stops":[{"offset":0,"color":"#fff"},{"offset":0.1,"color":"#fff"},{"offset":0.1,"color":"#000"},{"offset":0.1429,"color":"#000"},{"offset":0.1429,"color":"#fff"},{"offset":0.2429,"color":"#fff"},{"offset":0.2429,"color":"#000"},{"offset":0.2857,"color":"#000"},{"offset":0.2857,"color":"#fff"},{"offset":0.3857,"color":"#fff"},{"offset":0.3857,"color":"#000"},{"offset":0.4286,"color":"#000"},{"offset":0.4286,"color":"#fff"},{"offset":0.5286,"color":"#fff"},{"offset":0.5286,"color":"#000"},{"offset":0.5714,"color":"#000"},{"offset":0.5714,"color":"#fff"},{"offset":0.6714,"color":"#fff"},{"offset":0.6714,"color":"#000"},{"offset":0.7143,"color":"#000"},{"offset":0.7143,"color":"#fff"},{"offset":0.8143,"color":"#fff"},{"offset":0.8143,"color":"#000"},{"offset":0.8571,"color":"#000"},{"offset":0.8571,"color":"#fff"},{"offset":1,"color":"#fff"}]}},
     {"test": "datum.g === 'pH6.0+PcTx-1'", "value": {"gradient":"linear","x1":0,"y1":0,"x2":1,"y2":0,"stops":[{"offset":0,"color":"#fff"},{"offset":0.09,"color":"#fff"},{"offset":0.09,"color":"#000"},{"offset":0.125,"color":"#000"},{"offset":0.125,"color":"#fff"},{"offset":0.215,"color":"#fff"},{"offset":0.215,"color":"#000"},{"offset":0.25,"color":"#000"},{"offset":0.25,"color":"#fff"},{"offset":0.34,"color":"#fff"},{"offset":0.34,"color":"#000"},{"offset":0.375,"color":"#000"},{"offset":0.375,"color":"#fff"},{"offset":0.465,"color":"#fff"},{"offset":0.465,"color":"#000"},{"offset":0.5,"color":"#000"},{"offset":0.5,"color":"#fff"},{"offset":0.59,"color":"#fff"},{"offset":0.59,"color":"#000"},{"offset":0.625,"color":"#000"},{"offset":0.625,"color":"#fff"},{"offset":0.715,"color":"#fff"},{"offset":0.715,"color":"#000"},{"offset":0.75,"color":"#000"},{"offset":0.75,"color":"#fff"},{"offset":0.84,"color":"#fff"},{"offset":0.84,"color":"#000"},{"offset":0.875,"color":"#000"},{"offset":0.875,"color":"#fff"},{"offset":1,"color":"#fff"}]}}
    ], "value": "#707070"}}},
   {"transform": [{"filter": "datum.g === 'pH6.0'"}], "mark": {"type": "bar", "blend": "difference", "fill": {"gradient":"linear","x1":0,"y1":0,"x2":0,"y2":1,"stops":[{"offset":0,"color":"#000"},{"offset":0.0294,"color":"#000"},{"offset":0.0294,"color":"#fff"},{"offset":0.0588,"color":"#fff"},{"offset":0.0588,"color":"#000"},{"offset":0.0882,"color":"#000"},{"offset":0.0882,"color":"#fff"},{"offset":0.1176,"color":"#fff"},{"offset":0.1176,"color":"#000"},{"offset":0.1471,"color":"#000"},{"offset":0.1471,"color":"#fff"},{"offset":0.1765,"color":"#fff"},{"offset":0.1765,"color":"#000"},{"offset":0.2059,"color":"#000"},{"offset":0.2059,"color":"#fff"},{"offset":0.2353,"color":"#fff"},{"offset":0.2353,"color":"#000"},{"offset":0.2647,"color":"#000"},{"offset":0.2647,"color":"#fff"},{"offset":0.2941,"color":"#fff"},{"offset":0.2941,"color":"#000"},{"offset":0.3235,"color":"#000"},{"offset":0.3235,"color":"#fff"},{"offset":0.3529,"color":"#fff"},{"offset":0.3529,"color":"#000"},{"offset":0.3824,"color":"#000"},{"offset":0.3824,"color":"#fff"},{"offset":0.4118,"color":"#fff"},{"offset":0.4118,"color":"#000"},{"offset":0.4412,"color":"#000"},{"offset":0.4412,"color":"#fff"},{"offset":0.4706,"color":"#fff"},{"offset":0.4706,"color":"#000"},{"offset":0.5,"color":"#000"},{"offset":0.5,"color":"#fff"},{"offset":0.5294,"color":"#fff"},{"offset":0.5294,"color":"#000"},{"offset":0.5588,"color":"#000"},{"offset":0.5588,"color":"#fff"},{"offset":0.5882,"color":"#fff"},{"offset":0.5882,"color":"#000"},{"offset":0.6176,"color":"#000"},{"offset":0.6176,"color":"#fff"},{"offset":0.6471,"color":"#fff"},{"offset":0.6471,"color":"#000"},{"offset":0.6765,"color":"#000"},{"offset":0.6765,"color":"#fff"},{"offset":0.7059,"color":"#fff"},{"offset":0.7059,"color":"#000"},{"offset":0.7353,"color":"#000"},{"offset":0.7353,"color":"#fff"},{"offset":0.7647,"color":"#fff"},{"offset":0.7647,"color":"#000"},{"offset":0.7941,"color":"#000"},{"offset":0.7941,"color":"#fff"},{"offset":0.8235,"color":"#fff"},{"offset":0.8235,"color":"#000"},{"offset":0.8529,"color":"#000"},{"offset":0.8529,"color":"#fff"},{"offset":0.8824,"color":"#fff"},{"offset":0.8824,"color":"#000"},{"offset":0.9118,"color":"#000"},{"offset":0.9118,"color":"#fff"},{"offset":0.9412,"color":"#fff"},{"offset":0.9412,"color":"#000"},{"offset":0.9706,"color":"#000"},{"offset":0.9706,"color":"#fff"},{"offset":1,"color":"#fff"}]}}},
   {"mark": {"type": "bar", "fill": "transparent", "stroke": "#000", "strokeWidth": 2}},
   {"mark": {"type": "bar", "fill": "transparent", "strokeWidth": 0}, "encoding": {"opacity": {"datum": "f", "type": "ordinal", "legend": {"title": "f", "orient": "none", "legendX": -42, "legendY": 188, "labelExpr": "''", "symbolSize": 121}}}},
   {"mark": {"type": "rule", "color": "#000", "strokeWidth": 2}, "encoding": {"y2": {"field": "e"}}},
   {"mark": {"type": "tick", "color": "#000", "thickness": 2, "size": 17}, "encoding": {"y": {"field": "e", "type": "quantitative", "title": "IFN-γ (μg l⁻¹)"}}},
   {"mark": {"type": "text", "baseline": "bottom", "dy": -1, "fontSize": 14}, "encoding": {"y": {"field": "e", "type": "quantitative", "title": "IFN-γ (μg l⁻¹)"}, "text": {"field": "s"}}}
  ]
 }
]
}
